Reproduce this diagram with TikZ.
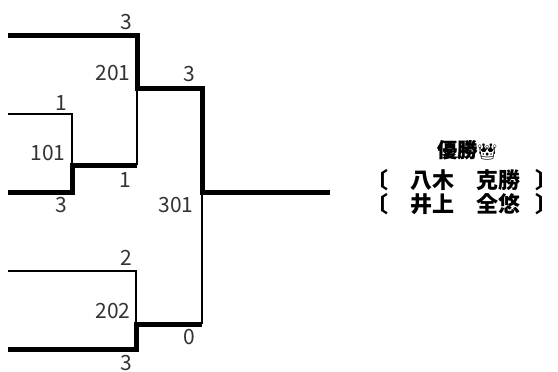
\documentclass[tikz,border=0pt]{standalone}
\usepackage{fontspec}
\setmainfont{Noto Sans CJK JP}
\newfontfamily\heavyfont{Noto Sans CJK JP}[BoldFeatures={FakeBold=1.2}]
\newfontfamily\emojifont{Noto Emoji}
\begin{document}
\begin{tikzpicture}[x=1pt,y=-1pt,
  win/.style={line width=5pt,line join=miter},
  lose/.style={line width=1.8pt},
  score/.style={inner sep=0pt,font=\fontsize{21}{21}\selectfont,text=black!80},
  pname/.style={inner sep=0pt,anchor=west,font=\bfseries\fontsize{22}{22}\selectfont}]
\fill[white] (0,0) rectangle (558,372);
\useasboundingbox (0,0) rectangle (558,372);
% team start points and match junctions
\coordinate (t1) at (8,35);
\coordinate (t2) at (8,114);
\coordinate (t3) at (8,192);
\coordinate (t4) at (8,271);
\coordinate (t5) at (8,349);
\coordinate (m101) at (72,165);
\coordinate (m201) at (137,88);
\coordinate (m202) at (136,324);
\coordinate (m301) at (202,192);
\coordinate (champ) at (330,192);
% losing lines
\draw[lose] (t2) -| (m101);
\draw[lose] (m201 |- m101) -- (m201);
\draw[lose] (t4) -| (m202);
\draw[lose] (m202 -| m301) -- (m301);
% winning lines
\draw[win] (t3) -| (m101) -- (m201 |- m101);
\draw[win] (t5) -| (m202) -- (m202 -| m301);
\draw[win] (t1) -| (m201) -| (m301) -- (champ);
% scores and match numbers
\node[score] (s1) at (126,22) {3};
\node[score] (n201) at (113,73) {201};
\node[score] (s2) at (189,74) {3};
\node[score] (s3) at (61,103) {1};
\node[score] (n101) at (48,153) {101};
\node[score] (s4) at (125,180) {1};
\node[score] (s5) at (61,205) {3};
\node[score] (n301) at (176,205) {301};
\node[score] (s6) at (126,258) {2};
\node[score] (n202) at (113,311) {202};
\node[score] (s7) at (189,337) {0};
\node[score] (s8) at (126,363) {3};
% champion
\node[pname,font=\heavyfont\bfseries\fontsize{20}{20}\selectfont] (title) at (437,150) {優勝{\emojifont\mdseries\fontsize{16}{16}\selectfont 👑}};
\node[pname] (p1) at (366,180) {〔　八木　克勝\hspace{0.7em}〕};
\node[pname] (p2) at (366,204) {〔　井上　全悠\hspace{0.7em}〕};
\end{tikzpicture}
\end{document}
